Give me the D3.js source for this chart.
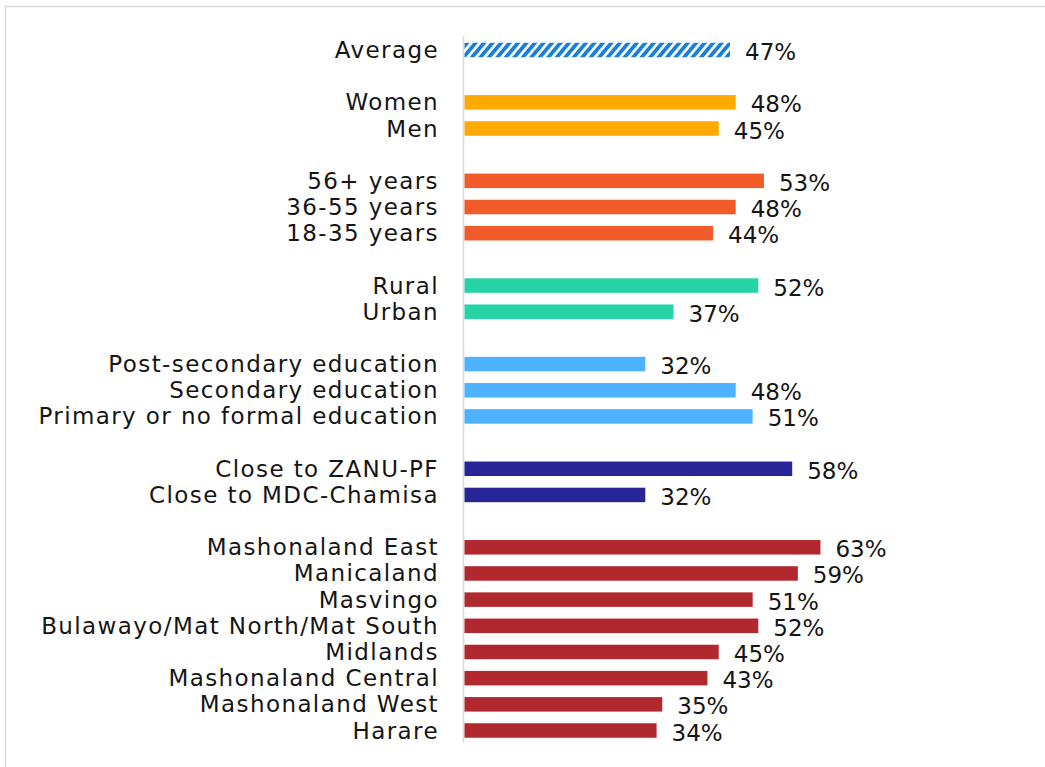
<!DOCTYPE html>
<html lang="en">
<head>
<meta charset="utf-8">
<title>Bar chart</title>
<script src="https://d3js.org/d3.v7.min.js"></script>
<style>
  body { margin: 0; background: #fff; }
  text { font-family: "Century Gothic", "DejaVu Sans", sans-serif; fill: #151515; }
</style>
</head>
<body>
<div id="chart"></div>
<script>
// data, one group per array (blank rows go between groups)
var groups = [
  ["Average"],
  ["Women", "Men"],
  ["56+ years", "36-55 years", "18-35 years"],
  ["Rural", "Urban"],
  ["Post-secondary education", "Secondary education", "Primary or no formal education"],
  ["Close to ZANU-PF", "Close to MDC-Chamisa"],
  ["Mashonaland East", "Manicaland", "Masvingo", "Bulawayo/Mat North/Mat South",
   "Midlands", "Mashonaland Central", "Mashonaland West", "Harare"]
];
var values = [
  [47],
  [48, 45],
  [53, 48, 44],
  [52, 37],
  [32, 48, 51],
  [58, 32],
  [63, 59, 51, 52, 45, 43, 35, 34]
];
var groupColors = ["url(#hatch)", "#ffaa00", "#f15a29", "#26d3a5", "#4db2ff", "#282596", "#b2282f"];

var width = 1045, height = 767;

var svg = d3.select("#chart").append("svg")
    .attr("width", width)
    .attr("height", height);

// hatch pattern for the average bar
var pat = svg.append("defs").append("pattern")
    .attr("id", "hatch")
    .attr("patternUnits", "userSpaceOnUse")
    .attr("width", 6.5)
    .attr("height", 6.5)
    .attr("patternTransform", "rotate(40)");
pat.append("rect").attr("width", 6.5).attr("height", 6.5).attr("fill", "#fff");
pat.append("rect").attr("width", 3.8).attr("height", 6.5).attr("fill", "#1a7fd9");

// outer frame
svg.append("rect")
    .attr("x", 5.5).attr("y", 6.5)
    .attr("width", 1060).attr("height", 780)
    .attr("fill", "none")
    .attr("stroke", "#d9d9d9")
    .attr("stroke-width", 1.5);

// flatten rows, with a gap slot between groups
var rows = [], slots = [];
groups.forEach(function(g, gi) {
  if (gi > 0) slots.push("gap" + gi);
  g.forEach(function(name, i) {
    slots.push(name);
    rows.push({name: name, value: values[gi][i], color: groupColors[gi]});
  });
});

var y = d3.scalePoint().domain(slots).range([50, 730.5]);
var x = d3.scaleLinear().domain([0, 100]).range([464.5, 1029.5]);
var barH = 14.5;

// axis line
svg.append("line")
    .attr("x1", 463.5).attr("x2", 463.5)
    .attr("y1", 36).attr("y2", 743)
    .attr("stroke", "#d9d9d9")
    .attr("stroke-width", 1.5);

svg.selectAll(".bar")
  .data(rows)
  .enter().append("rect")
    .attr("class", "bar")
    .attr("x", x(0))
    .attr("y", function(d) { return y(d.name) - barH / 2; })
    .attr("width", function(d) { return x(d.value) - x(0); })
    .attr("height", barH)
    .attr("fill", function(d) { return d.color; });

// category labels (wide font in the original, so a bit of spacing)
svg.selectAll(".cat")
  .data(rows)
  .enter().append("text")
    .attr("class", "cat")
    .attr("x", 439)
    .attr("y", function(d) { return y(d.name) + 8; })
    .attr("text-anchor", "end")
    .style("font-size", "23px")
    .style("letter-spacing", "1.4px")
    .text(function(d) { return d.name; });

svg.selectAll(".val")
  .data(rows)
  .enter().append("text")
    .attr("class", "val")
    .attr("x", function(d) { return x(d.value) + 15; })
    .attr("y", function(d) { return y(d.name) + 10; })
    .style("font-size", "23px")
    .text(function(d) { return d.value + "%"; });
</script>
</body>
</html>
